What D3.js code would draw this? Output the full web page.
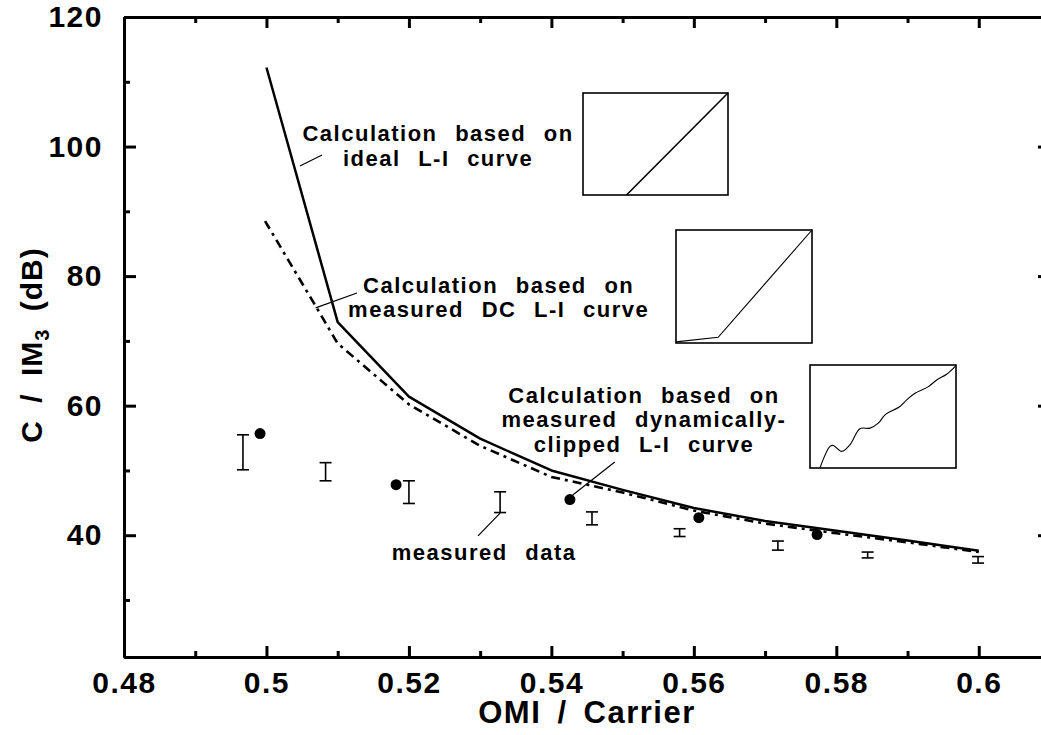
<!DOCTYPE html>
<html lang="en">
<head>
<meta charset="UTF-8">
<title>C / IM3 vs OMI</title>
<script src="https://d3js.org/d3.v7.min.js"></script>
<style>
  body { margin: 0; background: #fff; }
  svg text { font-family: "Liberation Sans", Arial, sans-serif; font-weight: bold; fill: #000; }
</style>
</head>
<body>
<div id="chart"></div>
<script>
// ---- data ----
var xMajorTicks = [0.48, 0.5, 0.52, 0.54, 0.56, 0.58, 0.6];
var xMinorTicks = [0.49, 0.51, 0.53, 0.55, 0.57, 0.59];
var yMajorTicks = [40, 60, 80, 100, 120];
var yMinorTicks = [30, 50, 70, 90, 110];
var xTickLabels = ["0.48", "0.5", "0.52", "0.54", "0.56", "0.58", "0.6"];

// calculation, ideal L-I curve (solid)
var idealOmi = [0.5, 0.51, 0.52, 0.53, 0.54, 0.55, 0.56, 0.57, 0.58, 0.59, 0.6];
var idealCim = [112.2, 72.9, 61.4, 54.9, 50.0, 47.0, 44.2, 42.2, 40.7, 39.2, 37.6];

// calculation, measured DC L-I curve (dash-dot)
var dcOmi = [0.4998, 0.507, 0.51, 0.52, 0.53, 0.54, 0.55, 0.56, 0.57, 0.58, 0.59, 0.6];
var dcCim = [88.5, 75.2, 69.6, 60.2, 53.8, 49.0, 46.6, 43.8, 41.8, 40.3, 38.9, 37.4];

// calculation, measured dynamically-clipped L-I curve (dots)
var clipOmi = [0.4991, 0.5182, 0.5426, 0.5607, 0.5773];
var clipCim = [55.7, 47.8, 45.5, 42.7, 40.1];

// measured data (error bars)
var measOmi = [0.4967, 0.5083, 0.520, 0.5328, 0.5457, 0.558, 0.5718, 0.5844, 0.5999];
var measHi  = [55.5, 51.2, 48.4, 46.7, 43.6, 41.0, 39.1, 37.4, 36.7];
var measLo  = [50.1, 48.4, 44.9, 43.5, 41.6, 39.8, 37.7, 36.5, 35.7];

// inset L-I curves, normalised current (x) / light (y)
var insetIdealX = [0.30, 1.0];
var insetIdealY = [0.0, 1.0];
var insetDcX = [0.0, 0.31, 1.0];
var insetDcY = [0.01, 0.05, 1.0];
var insetClipX = [0.068, 0.137, 0.160, 0.217, 0.274, 0.342, 0.411, 0.468, 0.514, 0.616, 0.662, 0.719, 0.811, 0.868, 0.936, 1.0];
var insetClipY = [0.0, 0.21, 0.219, 0.161, 0.226, 0.381, 0.387, 0.435, 0.516, 0.597, 0.661, 0.726, 0.790, 0.855, 0.910, 0.994];

// ---- layout ----
var W = 1041, H = 735;
var pL = 124, pR = 1050, pT = 17, pB = 657;

var svg = d3.select("#chart").append("svg")
  .attr("width", W).attr("height", H);

var x = d3.scaleLinear().domain([0.48, 0.61]).range([pL, pR]);
var y = d3.scaleLinear().domain([21.2, 120]).range([pB, pT]);

function styleAxis(g) {
  g.select(".domain").attr("stroke", "#000").attr("stroke-width", 3);
  g.selectAll(".tick line").attr("stroke", "#000").attr("stroke-width", 3);
  g.selectAll("text").attr("font-size", 30).attr("letter-spacing", 1.5)
    .style("font-family", "'Liberation Sans', Arial, sans-serif").style("font-weight", "bold");
}

// bottom axis
svg.append("g").attr("transform", "translate(0," + pB + ")")
  .call(d3.axisBottom(x).tickValues(xMajorTicks).tickSize(-11).tickSizeOuter(0).tickPadding(15)
    .tickFormat(function(d, i) { return xTickLabels[i]; }))
  .call(styleAxis);
svg.append("g").attr("transform", "translate(0," + pB + ")")
  .call(d3.axisBottom(x).tickValues(xMinorTicks).tickSize(-6).tickSizeOuter(0).tickFormat(""))
  .call(styleAxis);

// top axis
svg.append("g").attr("transform", "translate(0," + pT + ")")
  .call(d3.axisTop(x).tickValues(xMajorTicks).tickSize(-11).tickSizeOuter(0).tickFormat(""))
  .call(styleAxis);
svg.append("g").attr("transform", "translate(0," + pT + ")")
  .call(d3.axisTop(x).tickValues(xMinorTicks).tickSize(-6).tickSizeOuter(0).tickFormat(""))
  .call(styleAxis);

// left axis
svg.append("g").attr("transform", "translate(" + pL + ",0)")
  .call(d3.axisLeft(y).tickValues(yMajorTicks).tickSize(-12).tickSizeOuter(0).tickPadding(21))
  .call(styleAxis);
svg.append("g").attr("transform", "translate(" + pL + ",0)")
  .call(d3.axisLeft(y).tickValues(yMinorTicks).tickSize(-6).tickSizeOuter(0).tickFormat(""))
  .call(styleAxis);

// right axis
svg.append("g").attr("transform", "translate(" + pR + ",0)")
  .call(d3.axisRight(y).tickValues(yMajorTicks).tickSize(-12).tickSizeOuter(0).tickFormat(""))
  .call(styleAxis);
svg.append("g").attr("transform", "translate(" + pR + ",0)")
  .call(d3.axisRight(y).tickValues(yMinorTicks).tickSize(-6).tickSizeOuter(0).tickFormat(""))
  .call(styleAxis);

// axis titles
svg.append("text")
  .attr("x", (pL + pR) / 2).attr("y", 723)
  .attr("text-anchor", "middle").attr("font-size", 31)
  .attr("letter-spacing", 1.5).attr("word-spacing", 6)
  .text("OMI / Carrier");

var yt = svg.append("text")
  .attr("transform", "translate(42,345) rotate(-90)")
  .attr("text-anchor", "middle").attr("font-size", 30)
  .attr("letter-spacing", 1).attr("word-spacing", 8);
yt.append("tspan").text("C / IM");
yt.append("tspan").attr("font-size", 20).attr("dy", 7).text("3");
yt.append("tspan").attr("dy", -7).text(" (dB)");

// ideal curve
var line = d3.line().x(function(d) { return x(d[0]); }).y(function(d) { return y(d[1]); });
svg.append("path")
  .datum(d3.zip(idealOmi, idealCim))
  .attr("d", line)
  .attr("fill", "none").attr("stroke", "#000").attr("stroke-width", 2.5)
  .attr("stroke-linejoin", "round");

// DC curve
svg.append("path")
  .datum(d3.zip(dcOmi, dcCim))
  .attr("d", line)
  .attr("fill", "none").attr("stroke", "#000").attr("stroke-width", 2.6)
  .attr("stroke-dasharray", "9,5,3,5");

// measured error bars
var eb = svg.append("g").attr("stroke", "#000").attr("stroke-width", 1.6);
measOmi.forEach(function(o, i) {
  eb.append("line").attr("x1", x(o)).attr("x2", x(o)).attr("y1", y(measHi[i])).attr("y2", y(measLo[i]));
  eb.append("line").attr("x1", x(o) - 6).attr("x2", x(o) + 6).attr("y1", y(measHi[i])).attr("y2", y(measHi[i]));
  eb.append("line").attr("x1", x(o) - 6).attr("x2", x(o) + 6).attr("y1", y(measLo[i])).attr("y2", y(measLo[i]));
});

// clipped calculation dots
svg.append("g").selectAll("circle")
  .data(d3.zip(clipOmi, clipCim))
  .join("circle")
  .attr("cx", function(d) { return x(d[0]); })
  .attr("cy", function(d) { return y(d[1]); })
  .attr("r", 5.5)
  .attr("fill", "#000");

// annotations (anchored in data units)
function label(cx, lines, baselines, anchor) {
  var t = svg.append("text").attr("text-anchor", anchor || "middle")
    .attr("font-size", 22).attr("letter-spacing", 1.5).attr("word-spacing", 10);
  lines.forEach(function(s, i) {
    t.append("tspan").attr("x", x(cx)).attr("y", y(baselines[i])).text(s);
  });
}
function leader(a, b) {
  svg.append("line")
    .attr("x1", x(a[0])).attr("y1", y(a[1]))
    .attr("x2", x(b[0])).attr("y2", y(b[1]))
    .attr("stroke", "#000").attr("stroke-width", 1.2);
}

label(0.5241, ["Calculation based on", "ideal L-I curve"], [100.9, 97.0]);
leader([0.5047, 97.0], [0.5078, 98.7]);

label(0.5326, ["Calculation based on", "measured DC L-I curve"], [77.4, 73.7]);
leader([0.5069, 75.1], [0.5127, 77.4]);

label(0.5530, ["Calculation based on", "measured dynamically-", "clipped L-I curve"], [60.4, 56.7, 52.8]);
leader([0.5430, 46.2], [0.5489, 51.3]);

label(0.5176, ["measured data"], [36.2], "start");
leader([0.5297, 39.9], [0.5328, 43.4]);

// insets
var insets = [
  { box: [583, 93, 728, 195], xs: insetIdealX, ys: insetIdealY, curve: d3.curveLinear, w: 1.6 },
  { box: [676, 230, 812, 343], xs: insetDcX, ys: insetDcY, curve: d3.curveLinear, w: 1.1 },
  { box: [810, 365, 956, 468], xs: insetClipX, ys: insetClipY, curve: d3.curveCatmullRom, w: 1.1 }
];
insets.forEach(function(ins) {
  var b = ins.box;
  var ix = d3.scaleLinear().domain([0, 1]).range([b[0], b[2]]);
  var iy = d3.scaleLinear().domain([0, 1]).range([b[3], b[1]]);
  svg.append("rect")
    .attr("x", b[0]).attr("y", b[1]).attr("width", b[2] - b[0]).attr("height", b[3] - b[1])
    .attr("fill", "#fff").attr("stroke", "#000").attr("stroke-width", 1.6);
  svg.append("path")
    .datum(d3.zip(ins.xs, ins.ys))
    .attr("d", d3.line().curve(ins.curve).x(function(d) { return ix(d[0]); }).y(function(d) { return iy(d[1]); }))
    .attr("fill", "none").attr("stroke", "#000").attr("stroke-width", ins.w);
});
</script>
</body>
</html>
